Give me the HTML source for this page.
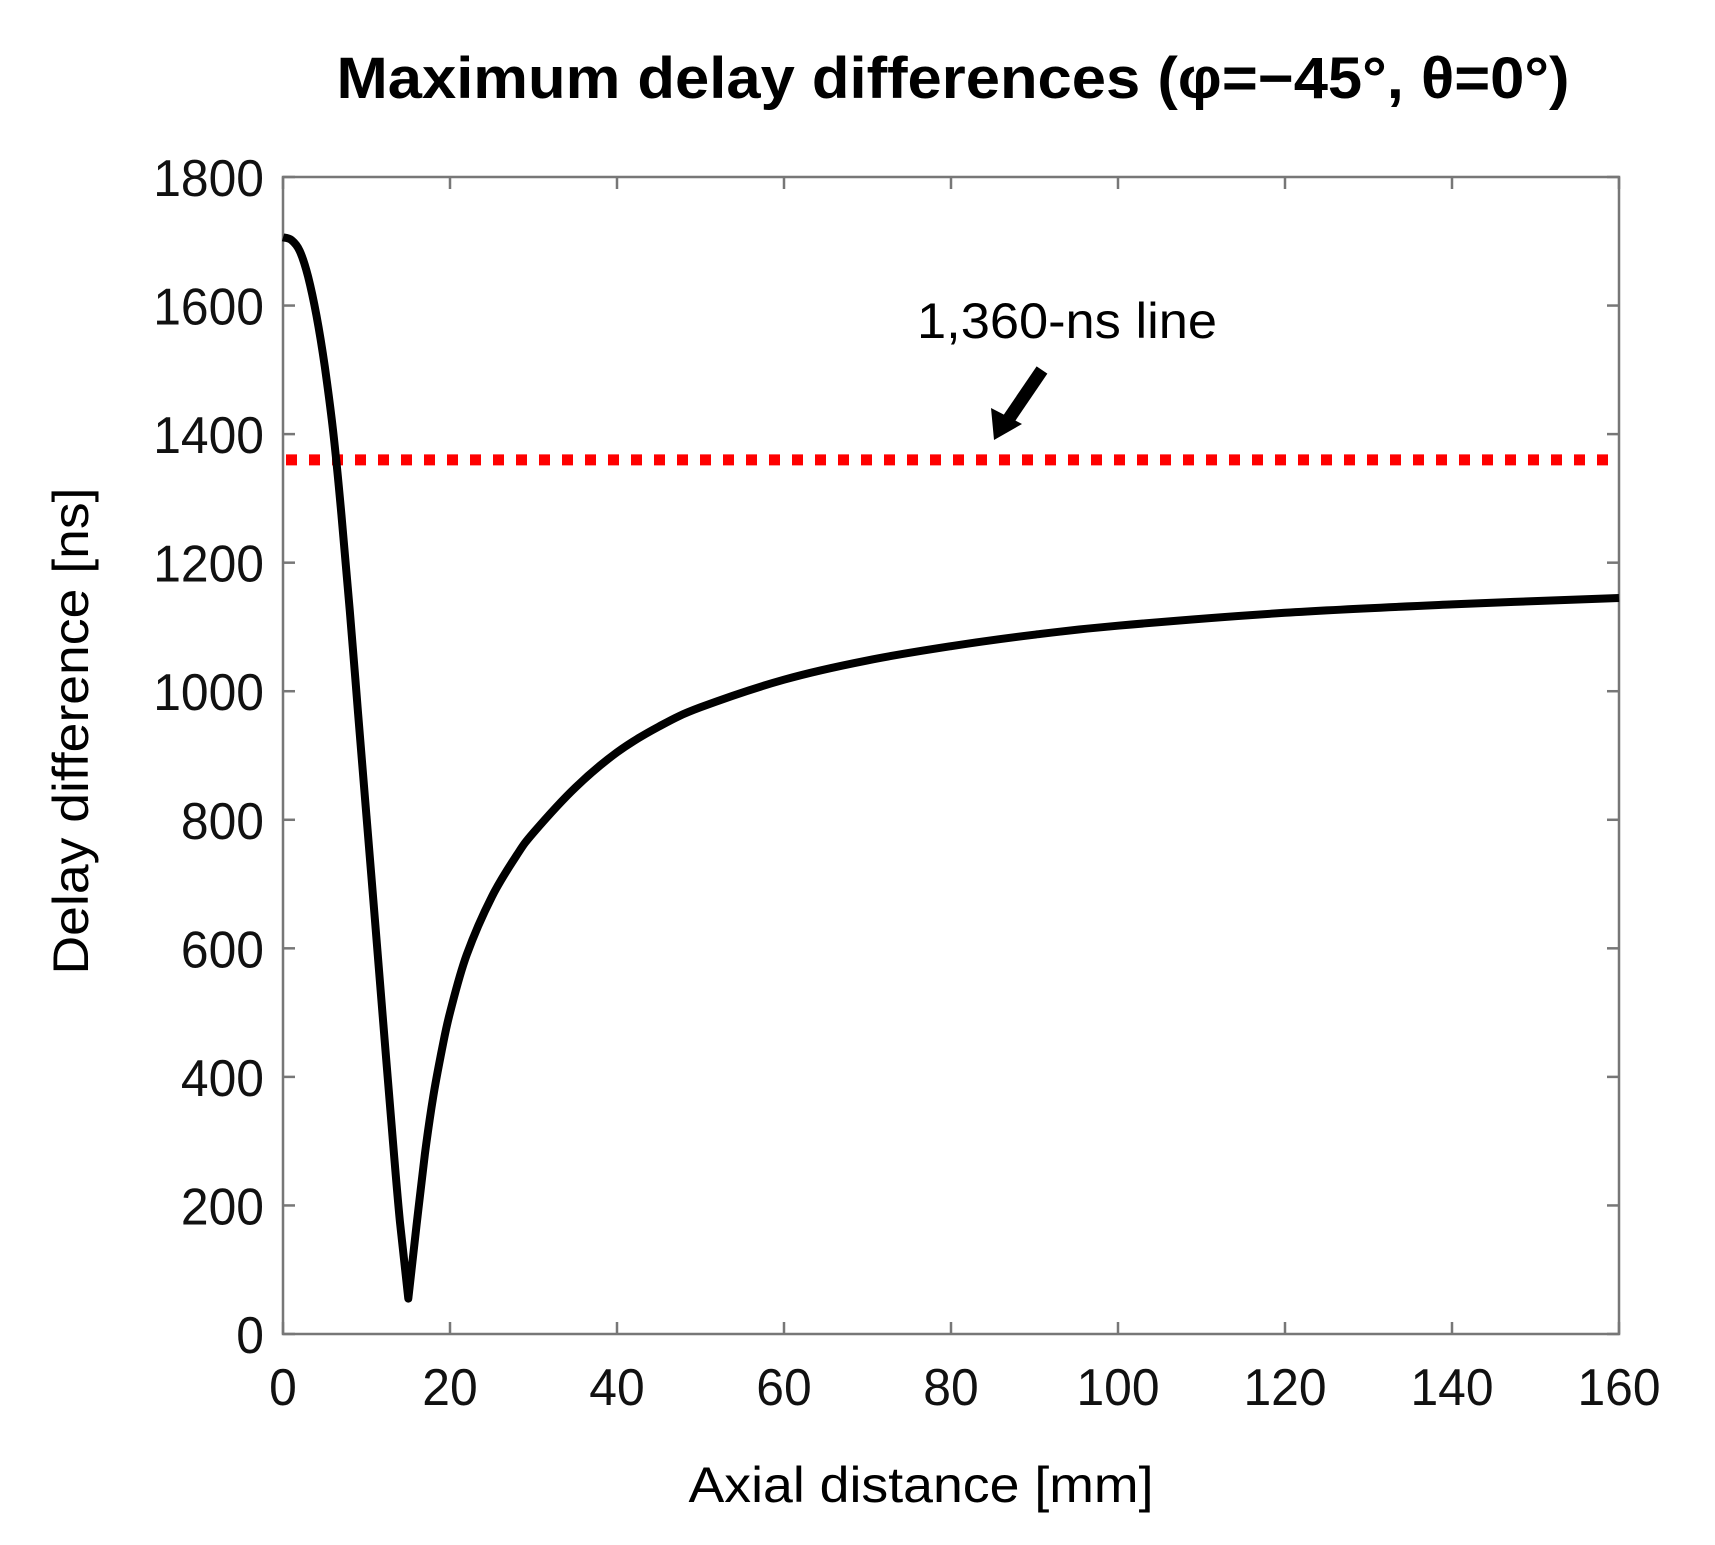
<!DOCTYPE html>
<html><head><meta charset="utf-8"><style>
html,body{margin:0;padding:0;background:#fff;}
svg{display:block;font-family:"Liberation Sans",Arial,sans-serif;}
</style></head><body>
<svg id="chart" width="1715" height="1545" viewBox="0 0 1715 1545">
<text x="953" y="98" font-size="58" font-weight="bold" text-anchor="middle" textLength="1233" lengthAdjust="spacingAndGlyphs">Maximum delay differences (φ=−45°, θ=0°)</text>
<g id="axes"></g>
<g id="plot"></g>
<text x="1067" y="338" font-size="50" text-anchor="middle" textLength="300" lengthAdjust="spacingAndGlyphs">1,360-ns line</text>
<g>
<line x1="1042" y1="370" x2="1008" y2="420" stroke="#000" stroke-width="13"/>
<polygon points="994,440 991,408 1022,424" fill="#000"/>
</g>
<text x="921" y="1502" font-size="50" text-anchor="middle" textLength="465" lengthAdjust="spacingAndGlyphs">Axial distance [mm]</text>
<text transform="translate(88,731) rotate(-90)" font-size="50" text-anchor="middle" textLength="487" lengthAdjust="spacingAndGlyphs">Delay difference [ns]</text>
</svg>
<script>
const xTicks=[0,20,40,60,80,100,120,140,160];
const yTicks=[0,200,400,600,800,1000,1200,1400,1600,1800];
const xs=[0,1,2,3,4,5,6,7,8,9,10,11,12,13,14,15,16,17,18,19,20,22,25,28,30,35,40,45,50,60,70,80,90,100,120,140,160];
const ys=[1706,1702,1685,1645,1585,1505,1405,1275,1125,965,805,645,485,325,175,55,170,280,370,440,500,590,680,745,780,850,905,945,975,1018,1048,1070,1088,1102,1122,1135,1145];
const threshold=1360;
const L=283,R=1619,T=177,B=1334;
const sx=v=>L+(v-0)/(160-0)*(R-L);
const sy=v=>B-(v-0)/(1800-0)*(B-T);
const NS="http://www.w3.org/2000/svg";
const axes=document.getElementById('axes'),plot=document.getElementById('plot');
function mk(tag,attrs,parent){const e=document.createElementNS(NS,tag);for(const k in attrs)e.setAttribute(k,attrs[k]);parent.appendChild(e);return e;}
const frame=mk('rect',{x:L,y:T,width:R-L,height:B-T,fill:'none',stroke:'#777','stroke-width':2.5},axes);


xTicks.forEach(t=>{
  const x=sx(t);
  mk('line',{x1:x,y1:B,x2:x,y2:B-12,stroke:'#777','stroke-width':2.5},axes);
  mk('line',{x1:x,y1:T,x2:x,y2:T+12,stroke:'#777','stroke-width':2.5},axes);
  const tx=mk('text',{x:x,y:1405,'font-size':52,'text-anchor':'middle',textLength:String(t).length*27.7,lengthAdjust:'spacingAndGlyphs',fill:'#111'},axes);
  tx.textContent=t;
  
  
});
yTicks.forEach(t=>{
  const y=sy(t);
  mk('line',{x1:L,y1:y,x2:L+12,y2:y,stroke:'#777','stroke-width':2.5},axes);
  mk('line',{x1:R,y1:y,x2:R-12,y2:y,stroke:'#777','stroke-width':2.5},axes);
  const tx=mk('text',{x:264,y:y+19,'font-size':52,'text-anchor':'end',textLength:String(t).length*27.7,lengthAdjust:'spacingAndGlyphs',fill:'#111'},axes);
  tx.textContent=t;
  
  
});
const th=mk('line',{x1:L+3,y1:sy(threshold),x2:R-3,y2:sy(threshold),stroke:'#f00','stroke-width':11,'stroke-dasharray':'11 12'},plot);


const P=xs.map((x,i)=>[sx(x),sy(ys[i])]);
let d='M'+P[0][0].toFixed(1)+','+P[0][1].toFixed(1);
for(let i=0;i<P.length-1;i++){
  const p0=P[Math.max(0,i-1)],p1=P[i],p2=P[i+1],p3=P[Math.min(P.length-1,i+2)];
  if(i===14||i===15){d+=' L'+p2[0].toFixed(1)+','+p2[1].toFixed(1);continue;}
  const c1=[p1[0]+(p2[0]-p0[0])/6,p1[1]+(p2[1]-p0[1])/6];
  const c2=[p2[0]-(p3[0]-p1[0])/6,p2[1]-(p3[1]-p1[1])/6];
  d+=' C'+c1[0].toFixed(1)+','+c1[1].toFixed(1)+' '+c2[0].toFixed(1)+','+c2[1].toFixed(1)+' '+p2[0].toFixed(1)+','+p2[1].toFixed(1);
}
const p=mk('path',{d:d,fill:'none',stroke:'#000','stroke-width':8,'stroke-linejoin':'round'},plot);


</script>
</body></html>
